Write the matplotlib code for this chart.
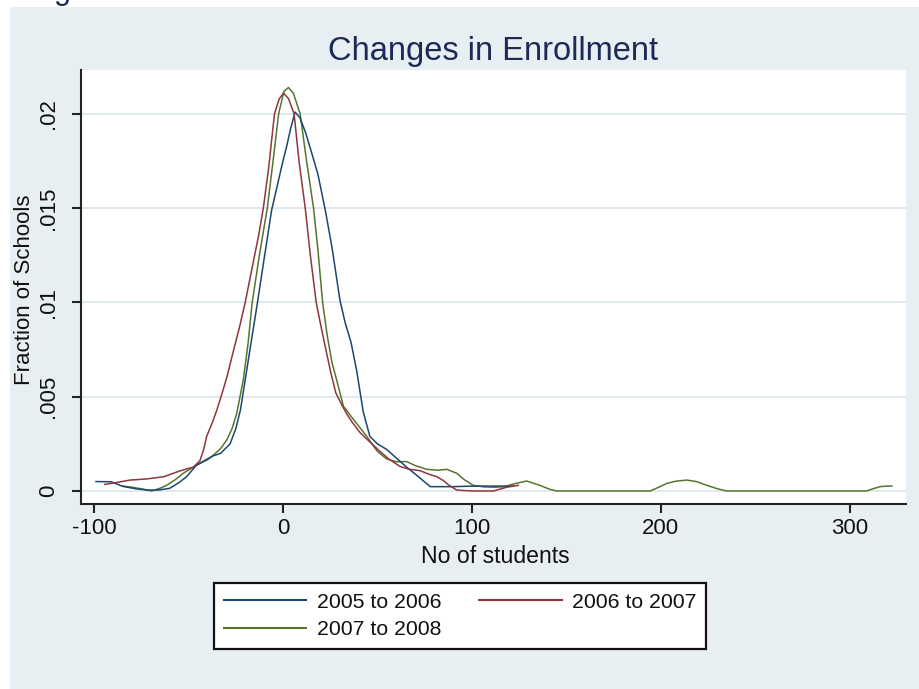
import matplotlib
matplotlib.use("Agg")
import matplotlib.pyplot as plt
from matplotlib.patches import Rectangle

plt.rcParams['font.family'] = ['Liberation Sans', 'DejaVu Sans']

# ---------------- data ----------------
x_0506 = [-99, -91, -85, -78, -72, -66, -60, -55, -51, -46, -41, -37, -33, -28, -25, -22.5,
          -20, -17, -13.5, -10, -6, -3, 0, 2, 4, 6.4, 9, 12, 15, 18.5, 22.4, 26, 30.2, 33,
          36, 39, 42.5, 46, 50, 55, 60, 65.5, 70, 73, 78, 85, 90, 97, 104, 112, 122]
y_0506 = [.00050, .00049, .00025, .00012, .00005, .00005, .00014, .00045, .00076, .00135,
          .00165, .00186, .00200, .00250, .00330, .00430, .00590, .00780, .01000, .01230,
          .01490, .01620, .01750, .01830, .01920, .02010, .01980, .01900, .01800, .01680,
          .01490, .01290, .01010, .00890, .00790, .00640, .00420, .00290, .00250, .00220,
          .00175, .00126, .00090, .00065, .00023, .00023, .00023, .00025, .00026, .00026,
          .00026]

x_0607 = [-94.3, -88, -81, -72, -63, -55, -50, -47.5, -44, -42, -40.4, -37.5, -35, -32.5,
          -29.8, -26.3, -23, -20, -16, -13, -10.4, -7.5, -4.5, -2, 0.3, 3, 5.9, 8.5, 11.8,
          14.5, 17.6, 20, 22.5, 25.5, 28, 31, 33.7, 37, 40.8, 46, 51.4, 56, 62, 67, 72.6,
          77, 81.4, 85, 88, 92, 100, 111.4, 115, 118.5, 124.6]
y_0607 = [.00035, .00045, .00058, .00064, .00076, .00105, .00120, .00126, .00160, .00220,
          .00290, .00360, .00430, .00510, .00600, .00740, .00870, .01000, .01200, .01350,
          .01500, .01720, .02000, .02080, .02110, .02080, .02000, .01750, .01500, .01250,
          .01000, .00880, .00760, .00620, .00520, .00460, .00410, .00360, .00310, .00260,
          .00210, .00170, .00130, .00115, .00108, .00090, .00076, .00055, .00030, .00005,
          .00000, .00000, .00010, .00020, .00030]

x_0708 = [-85, -80, -74, -69.5, -65, -61.6, -57, -52.8, -45.7, -40, -36.9, -33, -29.8, -27,
          -24.5, -21, -18.5, -16.3, -12.5, -8.3, -5, -2.3, 0.5, 2.9, 5.5, 9.1, 12.5, 16.2,
          18.5, 21, 23.5, 26, 28.4, 32, 37.3, 44.3, 50, 54.9, 60, 65.5, 70, 76.1, 82, 86.7,
          92, 96, 100.8, 106, 111.4, 117, 122, 129, 136, 141, 145, 194.4, 199, 203.2, 208,
          213.8, 219, 224.4, 230, 235, 309, 312.5, 316.2, 320, 322.4]
y_0708 = [.00026, .00020, .00010, .00000, .00015, .00030, .00060, .00094, .00138, .00165,
          .00190, .00225, .00270, .00330, .00410, .00590, .00780, .01000, .01250, .01500,
          .01770, .02000, .02120, .02140, .02110, .02000, .01750, .01500, .01280, .01000,
          .00820, .00680, .00590, .00450, .00380, .00290, .00210, .00170, .00155, .00156,
          .00135, .00115, .00110, .00115, .00094, .00060, .00030, .00022, .00020, .00022,
          .00037, .00053, .00030, .00010, 0, 0, .00020, .00040, .00052, .00058, .00050,
          .00030, .00012, 0, 0, .00012, .00023, .00026, .00026]

series_labels = ["2005 to 2006", "2006 to 2007", "2007 to 2008"]
x_ticks = [-100, 0, 100, 200, 300]
x_ticklabels = ["-100", "0", "100", "200", "300"]
y_ticks = [0, 0.005, 0.01, 0.015, 0.02]
y_ticklabels = ["0", ".005", ".01", ".015", ".02"]
title = "Changes in Enrollment"
xlabel = "No of students"
ylabel = "Fraction of Schools"

# ---------------- styling ----------------
W, H = 920, 689
BG = '#e8eff2'
GRID = '#dce7ed'
C_BLUE = '#1a476f'
C_RED = '#90353b'
C_GREEN = '#55752f'
TXT = '#111111'
TITLE_C = '#1c2a55'

fig = plt.figure(figsize=(W / 100, H / 100), dpi=100, facecolor='white')
fig.patches.append(Rectangle((10 / W, 0), 1 - 10 / W, 1 - 7 / H, transform=fig.transFigure,
                             facecolor=BG, edgecolor='none', zorder=-10))
# caption fragment cut by the top edge, as in the reference
fig.text(62 / W, 1 + 1 / H, "g", fontsize=22, ha='center', va='baseline', color=TITLE_C)

L, R, T, B = 80.7, 906, 70, 504
ax = fig.add_axes([L / W, 1 - B / H, (R - L) / W, (B - T) / H])
ax.set_facecolor('white')

for yt in y_ticks:
    ax.axhline(yt, color=GRID, lw=1.3, zorder=0)

lw = 1.1
h1, = ax.plot(x_0506, y_0506, color=C_BLUE, lw=lw, label=series_labels[0], zorder=3)
h2, = ax.plot(x_0607, y_0607, color=C_RED, lw=lw, label=series_labels[1], zorder=3)
h3, = ax.plot(x_0708, y_0708, color=C_GREEN, lw=lw, label=series_labels[2], zorder=2)

ax.set_xlim(-107.1, 329.9)
ax.set_ylim(-0.00069, 0.02233)

for s in ['top', 'right']:
    ax.spines[s].set_visible(False)
for s in ['left', 'bottom']:
    ax.spines[s].set_linewidth(1.5)
    ax.spines[s].set_color('#222222')

ax.set_xticks(x_ticks)
ax.set_xticklabels(x_ticklabels)
ax.set_yticks(y_ticks)
ax.set_yticklabels(y_ticklabels, rotation=90, va='center')
ax.tick_params(axis='both', direction='out', length=6.5, width=1.5, color='#222222',
               labelsize=16, labelcolor=TXT)
ax.tick_params(axis='x', pad=3.5)
ax.tick_params(axis='y', pad=9)

fig.text(493.5 / W, 1 - 60 / H, title, fontsize=23.5, ha='center', va='baseline',
         color=TITLE_C)
fig.text(495 / W, 1 - 563 / H, xlabel, fontsize=16.6, ha='center', va='baseline', color=TXT)
fig.text(24.5 / W, 1 - 290 / H, ylabel, fontsize=16, ha='center', va='center',
         rotation=90, color=TXT)

leg = fig.legend([h1, h3, h2], [series_labels[0], series_labels[2], series_labels[1]],
                 ncol=2, loc='upper left', bbox_to_anchor=(214 / W, 1 - 583 / H),
                 bbox_transform=fig.transFigure, fontsize=15.3, frameon=True,
                 fancybox=False, framealpha=1, handlelength=3.9, handletextpad=0.5,
                 columnspacing=1.75, labelspacing=0.42, borderpad=0.45,
                 borderaxespad=0)
frame = leg.get_frame()
frame.set_edgecolor('#111111')
frame.set_linewidth(1.6)
frame.set_facecolor('white')
for t in leg.get_texts():
    t.set_color(TXT)
for l in leg.get_lines():
    l.set_linewidth(1.5)

fig.savefig('out.png', dpi=100, facecolor=fig.get_facecolor())
